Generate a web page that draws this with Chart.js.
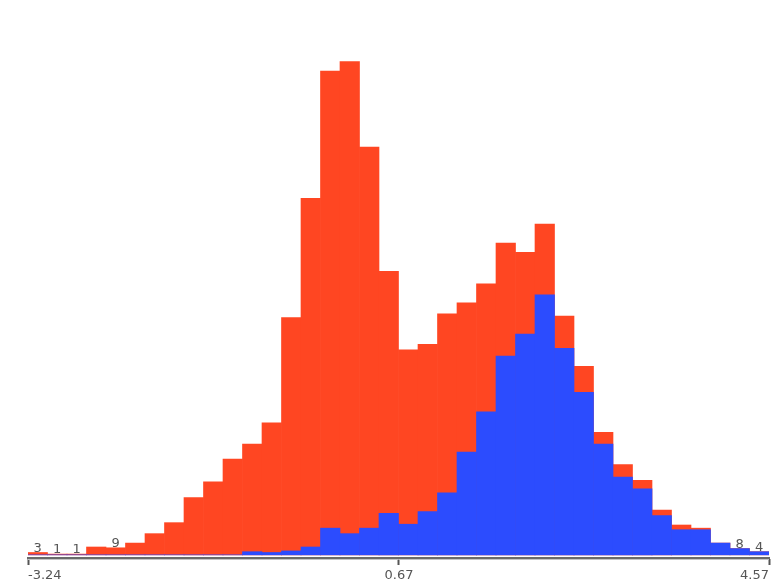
<!DOCTYPE html>
<html>
<head>
<meta charset="utf-8">
<script src="https://cdn.jsdelivr.net/npm/chart.js@4/dist/chart.umd.min.js"></script>
<style>
  html, body { margin: 0; padding: 0; background: #fff; }
  #wrap { width: 772px; height: 586px; }
</style>
</head>
<body>
<div id="wrap"><canvas id="histChart" width="772" height="586"></canvas></div>
<script>
// Histogram data (38 bins from -3.24 to 4.57)
const binStarts = [-3.24, -3.03, -2.83, -2.62, -2.42, -2.21, -2.01, -1.80, -1.60, -1.39,
                   -1.18, -0.98, -0.77, -0.57, -0.36, -0.16, 0.05, 0.25, 0.46, 0.66,
                   0.87, 1.08, 1.28, 1.49, 1.69, 1.90, 2.10, 2.31, 2.51, 2.72,
                   2.93, 3.13, 3.34, 3.54, 3.75, 3.95, 4.16, 4.36];
const totalCounts = [3, 1, 1, 10, 9, 15, 27, 41, 73, 93,
                     122, 141, 168, 302, 454, 616, 628, 519, 361, 261,
                     268, 307, 321, 345, 397, 385, 421, 304, 240, 156,
                     115, 95, 57, 38, 34, 15, 8, 4];
const selectedCounts = [0, 0, 0, 0, 0, 0, 0, 0, 0, 0,
                        0, 4, 3, 5, 10, 34, 27, 34, 53, 39,
                        55, 79, 131, 182, 253, 281, 331, 263, 207, 141,
                        99, 84, 50, 32, 32, 15, 8, 4];
const axisTicks = [-3.24, 0.67, 4.57];

const RED = '#ff4622';
const BLUE = '#2c4cfe';

// small counts get a number on top of the bar
const countLabels = {
    id: 'countLabels',
    afterDatasetsDraw(chart) {
        const meta = chart.getDatasetMeta(1);
        const ctx = chart.ctx;
        ctx.save();
        ctx.font = '13px "DejaVu Sans", sans-serif';
        ctx.fillStyle = '#555';
        ctx.textAlign = 'center';
        ctx.textBaseline = 'alphabetic';
        totalCounts.forEach((v, i) => {
            if (v < 10) {
                const bar = meta.data[i];
                ctx.fillText(String(v), bar.x, bar.y - 1);
            }
        });
        ctx.restore();
    },
    afterDraw(chart) {
        // lighter second line under the axis
        const area = chart.chartArea;
        const ctx = chart.ctx;
        ctx.save();
        ctx.strokeStyle = '#c4c4c4';
        ctx.lineWidth = 1;
        ctx.beginPath();
        ctx.moveTo(area.left, area.bottom + 1.5);
        ctx.lineTo(area.right, area.bottom + 1.5);
        ctx.stroke();
        ctx.restore();
    }
};

new Chart(document.getElementById('histChart'), {
    type: 'bar',
    data: {
        labels: binStarts,
        datasets: [{
            label: 'Selected',
            data: selectedCounts,
            backgroundColor: BLUE,
            xAxisID: 'xc',
            grouped: false,
            barPercentage: 1,
            categoryPercentage: 1,
            borderWidth: 0
        }, {
            label: 'All',
            data: totalCounts,
            backgroundColor: RED,
            xAxisID: 'xc',
            grouped: false,
            barPercentage: 1,
            categoryPercentage: 1,
            borderWidth: 0
        }]
    },
    options: {
        responsive: false,
        animation: false,
        layout: {
            padding: { left: 28, right: 2, top: 5, bottom: 0 }
        },
        plugins: {
            legend: { display: false },
            tooltip: { enabled: false }
        },
        scales: {
            xc: {
                type: 'category',
                display: false,
                offset: true
            },
            x: {
                type: 'linear',
                position: 'bottom',
                min: -3.24,
                max: 4.57,
                offset: false,
                afterBuildTicks: (scale) => {
                    scale.ticks = axisTicks.map(v => ({ value: v }));
                },
                afterFit: (scale) => {
                    scale.height = 28;
                },
                grid: {
                    offset: false,
                    drawOnChartArea: false,
                    drawTicks: true,
                    tickLength: 7,
                    tickWidth: 2,
                    tickColor: '#555',
                    color: '#555'
                },
                border: {
                    display: true,
                    color: '#6a6a6a',
                    width: 2
                },
                ticks: {
                    autoSkip: false,
                    maxRotation: 0,
                    align: 'inner',
                    padding: 3,
                    color: '#555',
                    font: { family: '"DejaVu Sans", sans-serif', size: 13 },
                    callback: (value) => String(value)
                }
            },
            y: {
                display: false,
                min: -4,
                max: 700
            }
        }
    },
    plugins: [countLabels]
});
</script>
</body>
</html>
